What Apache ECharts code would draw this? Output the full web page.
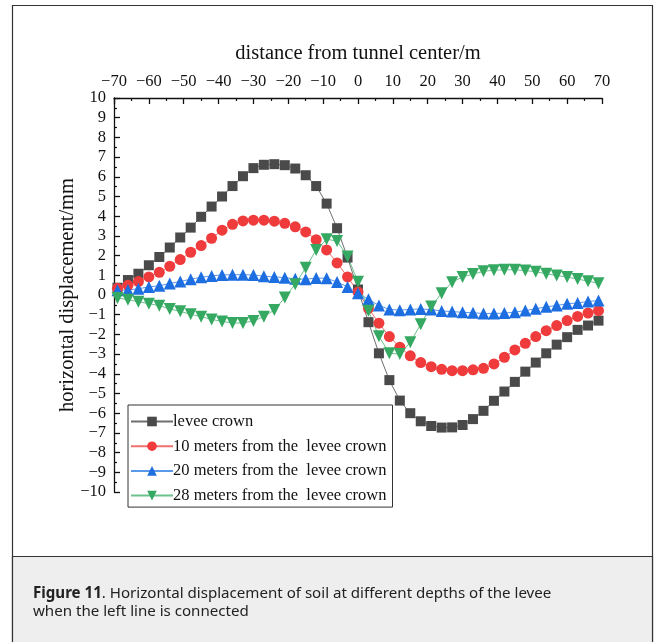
<!DOCTYPE html>
<html>
<head>
<meta charset="utf-8">
<script src="https://cdn.jsdelivr.net/npm/echarts@6/dist/echarts.min.js"></script>
<style>
  html, body { margin: 0; padding: 0; background: #fff; }
  #chart { width: 654px; height: 642px; }
</style>
</head>
<body>
<div id="chart"></div>
<script>
// Distance from tunnel center (m), sampled every 3 m
const distances = [-69,-66,-63,-60,-57,-54,-51,-48,-45,-42,-39,-36,-33,-30,-27,-24,-21,-18,-15,-12,-9,-6,-3,
  0,3,6,9,12,15,18,21,24,27,30,33,36,39,42,45,48,51,54,57,60,63,66,69];

// Horizontal displacement (mm) at each depth
const levee = [0.37,0.76,1.08,1.51,1.93,2.41,2.92,3.42,3.97,4.49,5.0,5.53,6.03,6.44,6.61,6.64,6.59,6.42,6.08,5.53,4.64,3.39,1.90,
  0.28,-1.38,-2.96,-4.32,-5.36,-6.0,-6.41,-6.65,-6.73,-6.72,-6.6,-6.3,-5.88,-5.37,-4.9,-4.41,-3.89,-3.43,-2.96,-2.52,-2.14,-1.77,-1.55,-1.3];
const depth10 = [0.34,0.49,0.68,0.92,1.15,1.46,1.80,2.17,2.51,2.88,3.29,3.59,3.76,3.80,3.80,3.75,3.64,3.46,3.20,2.81,2.29,1.63,0.92,
  0.15,-0.68,-1.43,-2.11,-2.65,-3.09,-3.43,-3.64,-3.77,-3.84,-3.84,-3.8,-3.72,-3.5,-3.16,-2.79,-2.45,-2.11,-1.81,-1.55,-1.3,-1.09,-0.92,-0.79];
const depth20 = [0.24,0.25,0.32,0.41,0.47,0.58,0.69,0.80,0.90,0.97,1.02,1.03,1.03,1.02,0.95,0.92,0.88,0.82,0.80,0.86,0.85,0.66,0.41,
  0.09,-0.22,-0.53,-0.73,-0.77,-0.73,-0.71,-0.74,-0.81,-0.84,-0.88,-0.9,-0.94,-0.94,-0.92,-0.87,-0.79,-0.70,-0.60,-0.53,-0.45,-0.40,-0.33,-0.28];
const depth28 = [-0.15,-0.24,-0.34,-0.44,-0.54,-0.71,-0.83,-0.98,-1.10,-1.24,-1.34,-1.42,-1.42,-1.32,-1.10,-0.76,-0.13,0.55,1.38,2.29,2.83,2.74,1.96,
  0.67,-0.8,-2.1,-2.96,-3.0,-2.4,-1.48,-0.58,0.09,0.65,0.92,1.06,1.2,1.26,1.28,1.28,1.24,1.18,1.08,0.99,0.91,0.81,0.70,0.60];

const seriesNames = ['levee crown', '10 meters from the  levee crown', '20 meters from the  levee crown', '28 meters from the  levee crown'];

const serif = '"Liberation Serif", "DejaVu Serif", serif';
const minus = v => String(v).replace('-', '\u2212');
const pairs = arr => distances.map((d, i) => [d, arr[i]]);

function lineSeries(name, values, symbol, size, fill, stroke, rotate) {
  return {
    name, type: 'line', data: pairs(values),
    symbol, symbolSize: size, symbolRotate: rotate || 0,
    showAllSymbol: true,
    itemStyle: { color: fill, borderWidth: 0 },
    lineStyle: { color: stroke, width: 1 },
    emphasis: { disabled: true },
    z: 3
  };
}

const chart = echarts.init(document.getElementById('chart'), null, { renderer: 'canvas' });
chart.setOption({
  animation: false,
  backgroundColor: '#fff',
  grid: { left: 114, right: 52, top: 98, bottom: 150, show: false },
  xAxis: {
    type: 'value', position: 'top', min: -70, max: 70, interval: 10,
    name: 'distance from tunnel center/m', nameLocation: 'middle', nameGap: 34,
    nameTextStyle: { fontFamily: serif, fontSize: 20.5, color: '#111' },
    axisLine: { show: true, onZero: false, lineStyle: { color: '#111', width: 1.3 } },
    axisTick: { show: true, inside: true, length: 6, lineStyle: { color: '#111', width: 1.3 } },
    minorTick: { show: true, splitNumber: 2, length: 3, lineStyle: { color: '#111', width: 1.2 } },
    axisLabel: { fontFamily: serif, fontSize: 16.5, color: '#111', margin: 8, formatter: minus },
    splitLine: { show: false }
  },
  yAxis: {
    type: 'value', min: -10, max: 10, interval: 1,
    name: 'horizontal displacement/mm', nameLocation: 'middle', nameGap: 36, nameRotate: 90,
    nameMoveOverlap: false,
    nameTextStyle: { fontFamily: serif, fontSize: 20.5, color: '#111' },
    axisLine: { show: true, onZero: false, lineStyle: { color: '#111', width: 1.3 } },
    axisTick: { show: true, inside: true, length: 6, lineStyle: { color: '#111', width: 1.3 } },
    minorTick: { show: true, splitNumber: 2, length: 3, lineStyle: { color: '#111', width: 1.2 } },
    axisLabel: { fontFamily: serif, fontSize: 16.5, color: '#111', margin: 8, formatter: minus },
    splitLine: { show: false }
  },
  legend: {
    orient: 'vertical', left: 128, top: 405,
    data: seriesNames,
    borderColor: '#333', borderWidth: 1, padding: [8, 6, 3, 2],
    itemWidth: 42, itemHeight: 12, itemGap: 7.7,
    textStyle: { fontFamily: serif, fontSize: 16.5, lineHeight: 17, color: '#111', padding: [0, 0, 0, -5] },
    backgroundColor: '#fff'
  },
  series: [
    lineSeries(seriesNames[0], levee, 'rect', 10, '#4a4a4a', '#6e6e6e'),
    lineSeries(seriesNames[1], depth10, 'circle', 11, '#ef3b3b', '#f07070'),
    lineSeries(seriesNames[2], depth20, 'triangle', 12, '#1d6ee0', '#5a98ea'),
    lineSeries(seriesNames[3], depth28, 'triangle', 12, '#35a862', '#6cc28c', 180)
  ],
  graphic: [
    { type: 'rect', shape: { x: 12.5, y: 5.5, width: 640, height: 651 }, style: { fill: 'none', stroke: '#333', lineWidth: 1.2 }, z: -10 },
    { type: 'rect', shape: { x: 12.5, y: 556.5, width: 640, height: 90 }, style: { fill: '#eeeeee', stroke: '#333', lineWidth: 1.2 }, z: -9 },
    {
      type: 'text', left: 33, top: 585, z: 10,
      style: {
        text: '{b|Figure 11}. Horizontal displacement of soil at different depths of the levee\nwhen the left line is connected',
        fontFamily: '"Noto Sans", "Open Sans", sans-serif', fontSize: 15.1, lineHeight: 17.5, fill: '#222',
        rich: { b: { fontFamily: '"Noto Sans", "Open Sans", sans-serif', fontSize: 15.1, lineHeight: 17.5, fontWeight: 'bold', fill: '#222' } }
      }
    }
  ]
});
</script>
</body>
</html>
